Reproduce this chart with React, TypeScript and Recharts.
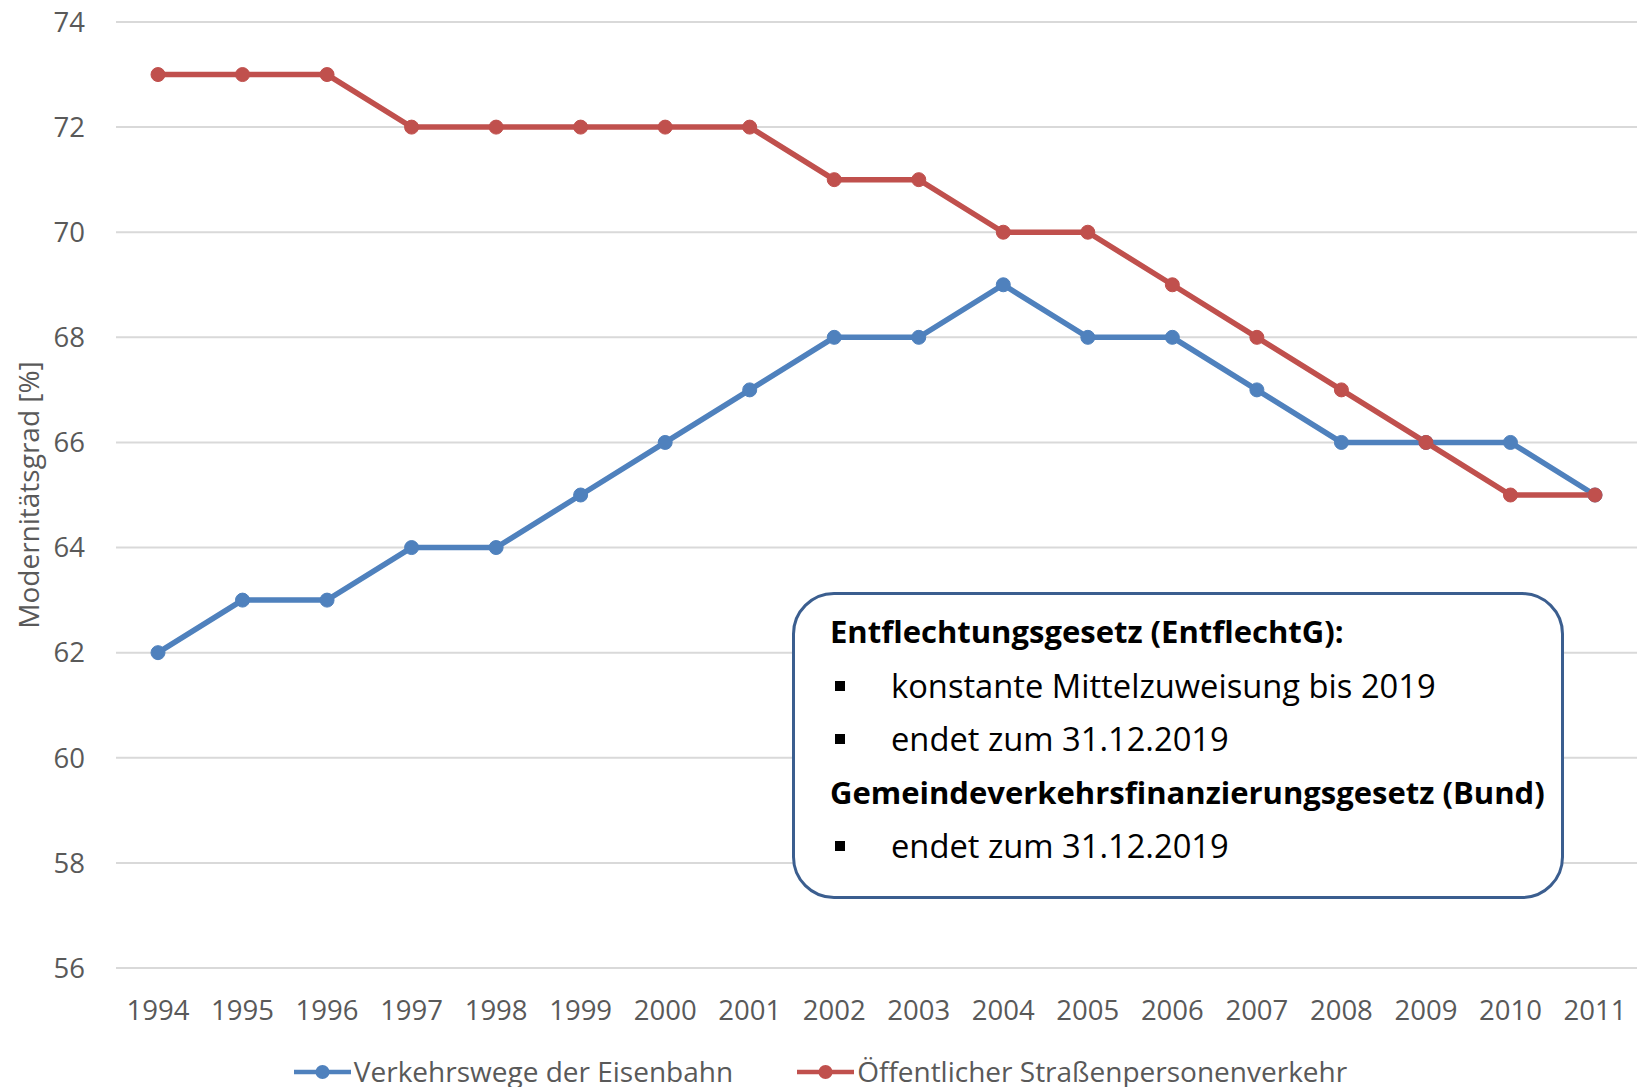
import React from 'react';
import { LineChart, Line, XAxis, YAxis, CartesianGrid, Legend } from 'recharts';

const years = ['1994','1995','1996','1997','1998','1999','2000','2001','2002','2003','2004','2005','2006','2007','2008','2009','2010','2011'];
const eisenbahn = [62,63,63,64,64,65,66,67,68,68,69,68,68,67,66,66,66,65];
const strassen = [73,73,73,72,72,72,72,72,71,71,70,70,69,68,67,66,65,65];
const yTicks = [56,58,60,62,64,66,68,70,72,74];
const seriesNames = ['Verkehrswege der Eisenbahn', 'Öffentlicher Straßenpersonenverkehr'];
const seriesColors = ['#4F81BD', '#C0504D'];
const yLabel = 'Modernitätsgrad [%]';
const boxLines = [
  { bold: true, text: 'Entflechtungsgesetz (EntflechtG):' },
  { bold: false, text: 'konstante Mittelzuweisung bis 2019' },
  { bold: false, text: 'endet zum 31.12.2019' },
  { bold: true, text: 'Gemeindeverkehrsfinanzierungsgesetz (Bund)' },
  { bold: false, text: 'endet zum 31.12.2019' },
];

const data = years.map((y, i) => ({ year: y, a: eisenbahn[i], b: strassen[i] }));

const FONT = '"Open Sans", sans-serif';
const GREY = '#595959';

const LegendContent = () => (
  <div style={{ display: 'flex', justifyContent: 'center', alignItems: 'center', fontFamily: FONT, fontSize: 28, color: GREY, gap: 64, lineHeight: '37px', paddingLeft: 4 }}>
    {seriesNames.map((n, i) => (
      <div key={n} style={{ display: 'flex', alignItems: 'center' }}>
        <svg width={57} height={16} style={{ marginRight: 3 }}>
          <line x1={0} y1={8} x2={57} y2={8} stroke={seriesColors[i]} strokeWidth={4.5} strokeLinecap="round" />
          <circle cx={28.5} cy={8} r={7} fill={seriesColors[i]} />
        </svg>
        <span>{n}</span>
      </div>
    ))}
  </div>
);

const YLabel = (props: any) => {
  const vb = props.viewBox || {};
  const cy = vb.y + vb.height / 2;
  return (
    <text x={28} y={cy} transform={`rotate(-90, 28, ${cy})`} textAnchor="middle" dominantBaseline="central"
      fill={GREY} fontSize={28} fontFamily={FONT}>{yLabel}</text>
  );
};

export default function App() {
  return (
    <div style={{ position: 'absolute', left: 0, top: 0, width: 1642, height: 1087, background: '#fff' }}>
      <LineChart width={1642} height={1087} data={data} margin={{ top: 22, right: 5, left: 0, bottom: 0 }}>
        <CartesianGrid horizontal vertical={false} stroke="#D9D9D9" strokeWidth={2} />
        <XAxis dataKey="year" axisLine={false} tickLine={false} tickSize={6} tickMargin={26} height={82}
          padding={{ left: 42, right: 42 }}
          tick={{ fill: GREY, fontSize: 27.5, fontFamily: FONT }} interval={0} />
        <YAxis domain={[56, 74]} ticks={yTicks} axisLine={false} tickLine={false} width={116} tickSize={6} tickMargin={25}
          tick={{ fill: GREY, fontSize: 27.5, fontFamily: FONT }} label={<YLabel />} />
        <Legend verticalAlign="bottom" content={<LegendContent />} wrapperStyle={{ bottom: -3 }} />
        <Line dataKey="a" name={seriesNames[0]} stroke={seriesColors[0]} strokeWidth={5.5} isAnimationActive={false}
          dot={{ r: 7, fill: seriesColors[0], stroke: seriesColors[0], strokeWidth: 1 }} activeDot={false} />
        <Line dataKey="b" name={seriesNames[1]} stroke={seriesColors[1]} strokeWidth={5.5} isAnimationActive={false}
          dot={{ r: 7, fill: seriesColors[1], stroke: seriesColors[1], strokeWidth: 1 }} activeDot={false} />
      </LineChart>
      <div style={{ position: 'absolute', left: 792, top: 592, width: 772, height: 307, boxSizing: 'border-box',
        border: '3px solid #3B5E8F', borderRadius: 42, background: '#fff', paddingTop: 10, paddingLeft: 35,
        fontFamily: FONT, color: '#000' }}>
        {boxLines.map((l, i) => (
          <div key={i} style={{ height: 53.5, lineHeight: '53.5px', whiteSpace: 'nowrap',
            fontWeight: l.bold ? 700 : 400, fontSize: l.bold ? 31 : 32.7, position: 'relative', paddingLeft: l.bold ? 0 : 61 }}>
            {!l.bold && <span style={{ position: 'absolute', left: 5, top: 22, width: 10, height: 10, background: '#000' }} />}
            {l.text}
          </div>
        ))}
      </div>
    </div>
  );
}
